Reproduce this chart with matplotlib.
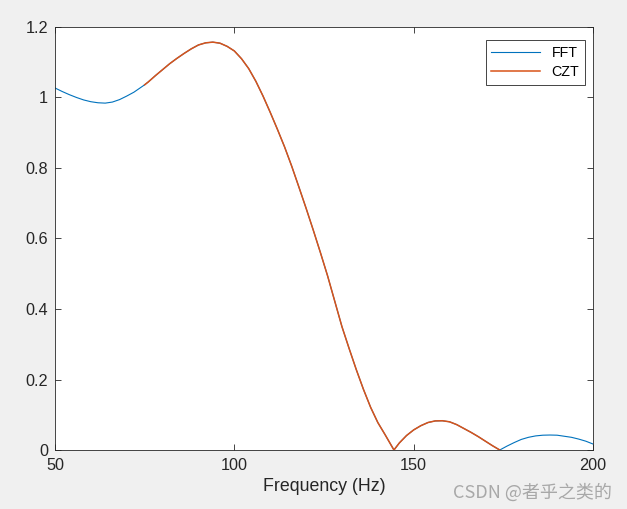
import matplotlib
matplotlib.use("Agg")
import matplotlib.pyplot as plt

# frequency (Hz) and magnitude
freq = [50, 52, 54, 56, 58, 60, 62, 64, 66, 68, 70, 72, 74, 75, 76, 78, 80,
        82, 84, 86, 88, 90, 92, 94, 96, 98, 100, 102, 104, 106, 108, 110,
        112, 114, 116, 118, 120, 122, 124, 126, 128, 130, 132, 134, 136, 138,
        140, 142, 144.5, 146, 148, 150, 152, 154, 156, 158, 160, 162, 164,
        166, 168, 170, 172, 174, 176, 178, 180, 182, 184, 186, 188, 190, 192,
        194, 196, 198, 200]
mag = [1.027, 1.017, 1.008, 1.000, 0.993, 0.988, 0.985, 0.984, 0.987, 0.994,
       1.004, 1.015, 1.029, 1.036, 1.044, 1.062, 1.079, 1.096, 1.111, 1.125,
       1.138, 1.149, 1.155, 1.157, 1.154, 1.145, 1.132, 1.110, 1.082, 1.046,
       1.004, 0.958, 0.910, 0.860, 0.805, 0.746, 0.686, 0.624, 0.560, 0.494,
       0.422, 0.350, 0.288, 0.228, 0.172, 0.121, 0.078, 0.044, 0.0, 0.020,
       0.041, 0.057, 0.069, 0.078, 0.0825, 0.083, 0.080, 0.072, 0.061, 0.050,
       0.038, 0.025, 0.012, 0.0, 0.011, 0.021, 0.030, 0.036, 0.040, 0.042,
       0.0425, 0.042, 0.039, 0.036, 0.031, 0.025, 0.017]

# CZT covers only the zoomed band
czt_lo, czt_hi = 75, 174
czt_f = [f for f in freq if czt_lo <= f <= czt_hi]
czt_m = [m for f, m in zip(freq, mag) if czt_lo <= f <= czt_hi]

plt.rcParams['font.family'] = ['Liberation Sans', 'DejaVu Sans']
fig = plt.figure(figsize=(6.27, 5.09), dpi=100, facecolor='#f0f0f0')
ax = fig.add_axes([0.0877, 0.1159, 0.8581, 0.8311])

ax.plot(freq, mag, color='#0072BD', lw=0.8, label='FFT')
ax.plot(czt_f, czt_m, color='#D95319', lw=1.1, label='CZT')

ax.set_xlim(50, 200)
ax.set_ylim(0, 1.2)
ax.set_xticks([50, 100, 150, 200])
ax.set_yticks([0, 0.2, 0.4, 0.6, 0.8, 1.0, 1.2])
ax.set_yticklabels(['0', '0.2', '0.4', '0.6', '0.8', '1', '1.2'])
ax.tick_params(direction='in', top=True, right=True, length=4, width=0.6,
               labelsize=11.7, colors='#262626')
ax.tick_params(axis='x', pad=6)
ax.tick_params(axis='y', pad=5)
for s in ax.spines.values():
    s.set_color('#262626')
    s.set_linewidth(0.6)
ax.set_xlabel('Frequency (Hz)', fontsize=12.8, color='#262626', labelpad=3)

leg = ax.legend(loc='upper right', bbox_to_anchor=(0.985, 0.969),
                borderaxespad=0, fancybox=False, edgecolor='#262626',
                framealpha=1, fontsize=10.3, handlelength=3.4,
                labelspacing=0.35, borderpad=0.4)
leg.get_frame().set_linewidth(0.6)

fig.text(0.976, 0.033, 'CSDN @者乎之类的', ha='right', va='center',
         fontsize=13, color='#a8a8a8',
         family=['Noto Sans CJK SC', 'DejaVu Sans'])

fig.savefig('out.png', dpi=100, facecolor=fig.get_facecolor())
